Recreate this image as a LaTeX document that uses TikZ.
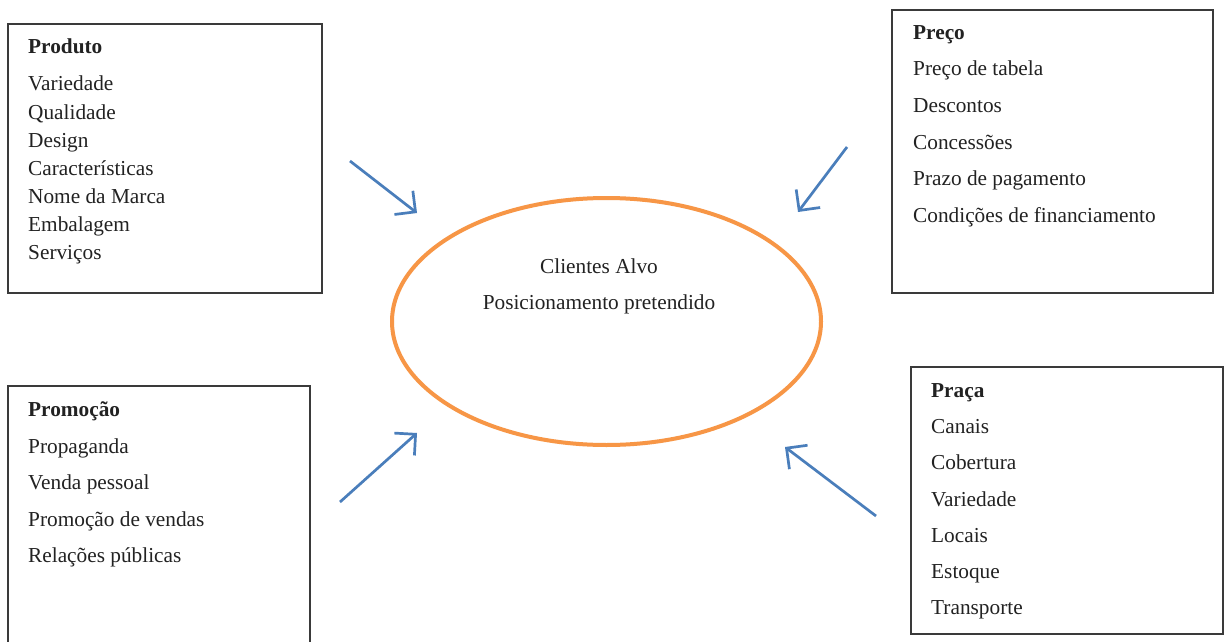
\documentclass[tikz,border=0pt]{standalone}
\usepackage{fontspec}
\setmainfont{Liberation Serif}
\usetikzlibrary{arrows.meta,shapes.geometric}
\definecolor{boxline}{HTML}{3A3A3A}
\definecolor{arrowblue}{HTML}{4A7EBB}
\definecolor{ringorange}{HTML}{F79646}
\definecolor{txt}{HTML}{222222}
\begin{document}
\begin{tikzpicture}[x=1pt,y=-1pt,
  mixbox/.style={draw=boxline,line width=1.1pt,inner sep=0pt,rectangle},
  item/.style={anchor=base west,inner sep=0pt,text=txt,font=\fontsize{21.3}{24}\selectfont},
  title/.style={item,font=\fontsize{21.3}{24}\selectfont\bfseries},
  ctext/.style={anchor=base,inner sep=0pt,text=txt,font=\fontsize{21.3}{24}\selectfont},
  flow/.style={draw=arrowblue,line width=2.7pt,-{Straight Barb[length=15pt,width=30pt,line width=2.7pt]}},
  ring/.style={draw=ringorange,line width=4pt,ellipse,inner sep=0pt}
]
\clip (0,0) rectangle (1224,642);
\fill[white] (0,0) rectangle (1224,642);

% boxes
\node[mixbox,minimum width=314pt,minimum height=269pt] (bprod) at (165,158.5) {};
\node[mixbox,minimum width=321pt,minimum height=283pt] (bpreco) at (1052.5,151.5) {};
\node[mixbox,minimum width=302pt,minimum height=300pt] (bpromo) at (159,536) {};
\node[mixbox,minimum width=312pt,minimum height=267pt] (bpraca) at (1067,500.5) {};

% Produto
\node[title] (t1) at (28,54) {Produto};
\node[item] (p1) at (28,91) {Variedade};
\node[item] (p2) at (28,119) {Qualidade};
\node[item] (p3) at (28,147) {Design};
\node[item] (p4) at (28,175) {Características};
\node[item] (p5) at (28,203) {Nome da Marca};
\node[item] (p6) at (28,231) {Embalagem};
\node[item] (p7) at (28,259) {Serviços};

% Preço
\node[title] (t2) at (913,40) {Preço};
\node[item] (q1) at (913,76) {Preço de tabela};
\node[item] (q2) at (913,112) {Descontos};
\node[item] (q3) at (913,149) {Concessões};
\node[item] (q4) at (913,185) {Prazo de pagamento};
\node[item] (q5) at (913,222) {Condições de financiamento};

% Promoção
\node[title] (t3) at (28,416) {Promoção};
\node[item] (r1) at (28,453) {Propaganda};
\node[item] (r2) at (28,489) {Venda pessoal};
\node[item] (r3) at (28,526) {Promoção de vendas};
\node[item] (r4) at (28,562) {Relações públicas};

% Praça
\node[title] (t4) at (931,397) {Praça};
\node[item] (s1) at (931,433) {Canais};
\node[item] (s2) at (931,469) {Cobertura};
\node[item] (s3) at (931,506) {Variedade};
\node[item] (s4) at (931,542) {Locais};
\node[item] (s5) at (931,578) {Estoque};
\node[item] (s6) at (931,614) {Transporte};

% centre
\node[ring,minimum width=429pt,minimum height=247pt] (core) at (606.5,321.5) {};
\node[ctext] (c1) at (599,273) {Clientes Alvo};
\node[ctext] (c2) at (599,309) {Posicionamento pretendido};

% arrows
\coordinate (a1s) at (350,161); \coordinate (a1e) at (417,213);
\coordinate (a2s) at (847,147); \coordinate (a2e) at (798,212);
\coordinate (a3s) at (340,502); \coordinate (a3e) at (417,433);
\coordinate (a4s) at (876,516); \coordinate (a4e) at (785,447);
\draw[flow] (a1s) -- (a1e);
\draw[flow] (a2s) -- (a2e);
\draw[flow] (a3s) -- (a3e);
\draw[flow] (a4s) -- (a4e);
\end{tikzpicture}
\end{document}
